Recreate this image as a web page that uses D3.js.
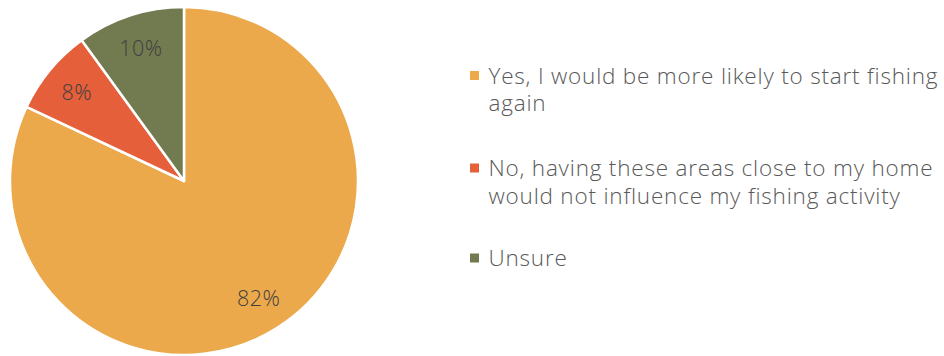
<!DOCTYPE html>
<html>
<head>
<meta charset="utf-8">
<script src="https://cdn.jsdelivr.net/npm/d3@7"></script>
<style>
  html, body { margin: 0; padding: 0; background: #fff; }
  svg { display: block; }
</style>
</head>
<body>
<svg id="chart" width="944" height="356"></svg>
<script>
// Survey responses
const categories = [
  "Yes, I would be more likely to start fishing again",
  "No, having these areas close to my home would not influence my fishing activity",
  "Unsure"
];
const values = [82, 8, 10];
const colors = ["#EBA94B", "#E65F3B", "#727A50"];
const legendLines = [
  ["Yes, I would be more likely to start fishing", "again"],
  ["No, having these areas close to my home", "would not influence my fishing activity"],
  ["Unsure"]
];

const fontFamily = "'Open Sans', sans-serif";
const svg = d3.select("#chart");

const cx = 184, cy = 181, R = 174;
const data = categories.map((c, i) => ({ category: c, value: values[i], color: colors[i] }));

const pie = d3.pie().value(d => d.value).sort(null);
const arc = d3.arc().innerRadius(0).outerRadius(R);
const labelArc = d3.arc().innerRadius(R * 0.8).outerRadius(R * 0.8);

const g = svg.append("g").attr("transform", `translate(${cx},${cy})`);
const arcs = pie(data);

g.selectAll("path.slice")
  .data(arcs)
  .join("path")
  .attr("class", "slice")
  .attr("d", arc)
  .attr("fill", d => d.data.color)
  .attr("stroke", "#fff")
  .attr("stroke-width", 2.5)
  .attr("stroke-linejoin", "round");

g.selectAll("text.pct")
  .data(arcs)
  .join("text")
  .attr("class", "pct")
  .attr("transform", d => `translate(${labelArc.centroid(d)})`)
  .attr("text-anchor", "middle")
  .attr("dy", "0.36em")
  .attr("font-family", fontFamily)
  .attr("font-weight", 300)
  .attr("font-size", 21.5)
  .attr("letter-spacing", 0.5)
  .attr("fill", "#404040")
  .text(d => d.data.value + "%");

// Legend: one wrapped text per entry
const legendX = 470, textX = 488.5;
const baselines = [83.5, 176, 266];
const lineH = 27.5;

const items = svg.append("g")
  .selectAll("g.item")
  .data(legendLines)
  .join("g")
  .attr("class", "item");

items.append("rect")
  .attr("x", legendX)
  .attr("y", (d, i) => baselines[i] - 12.5)
  .attr("width", 9)
  .attr("height", 9)
  .attr("fill", (d, i) => colors[i]);

items.append("text")
  .attr("y", (d, i) => baselines[i])
  .attr("font-family", fontFamily)
  .attr("font-weight", 300)
  .attr("font-size", 22.5)
  .attr("letter-spacing", 0.8)
  .attr("fill", "#595959")
  .selectAll("tspan")
  .data(d => d)
  .join("tspan")
  .attr("x", textX)
  .attr("dy", (d, j) => j === 0 ? 0 : lineH)
  .text(d => d);
</script>
</body>
</html>
